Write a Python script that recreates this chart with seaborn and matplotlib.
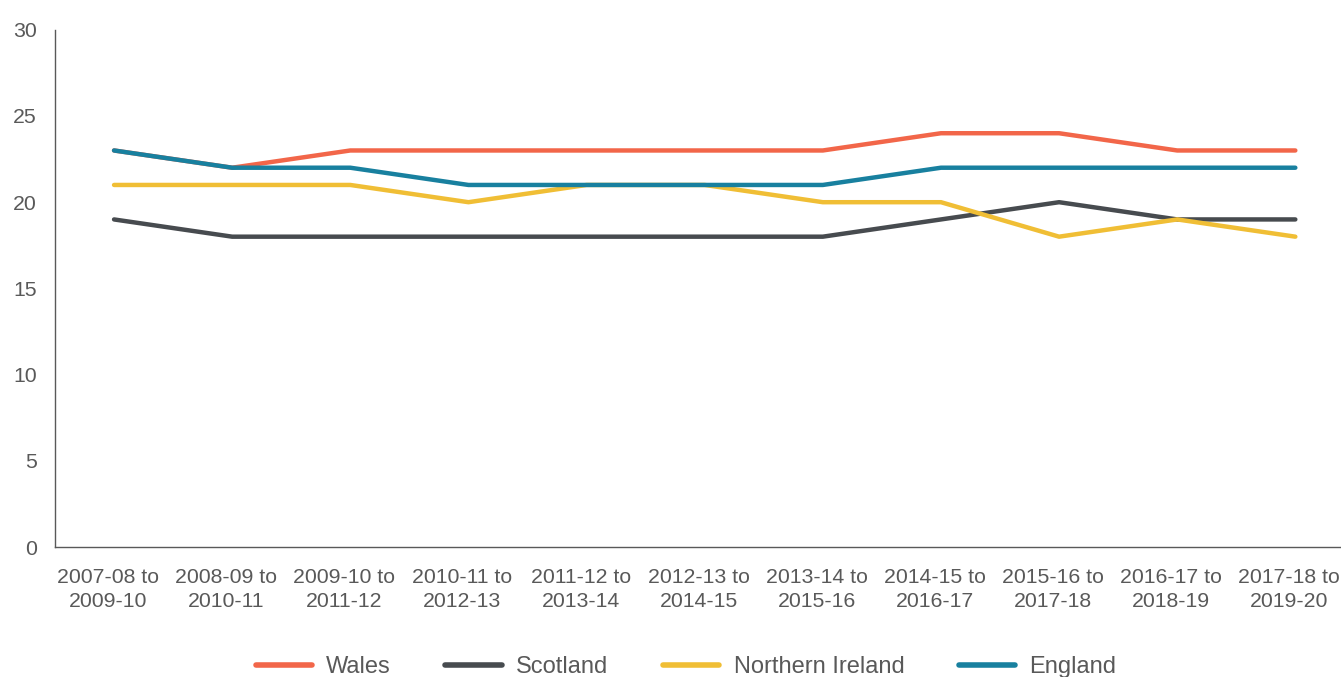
import pandas as pd
import matplotlib
matplotlib.use('Agg')
import matplotlib.pyplot as plt
import matplotlib.transforms as mtransforms
import seaborn as sns

periods = ["2007-08 to\n2009-10", "2008-09 to\n2010-11", "2009-10 to\n2011-12",
           "2010-11 to\n2012-13", "2011-12 to\n2013-14", "2012-13 to\n2014-15",
           "2013-14 to\n2015-16", "2014-15 to\n2016-17", "2015-16 to\n2017-18",
           "2016-17 to\n2018-19", "2017-18 to\n2019-20"]
wales = [23, 22, 23, 23, 23, 23, 23, 24, 24, 23, 23]
scotland = [19, 18, 18, 18, 18, 18, 18, 19, 20, 19, 19]
northern_ireland = [21, 21, 21, 20, 21, 21, 20, 20, 18, 19, 18]
england = [23, 22, 22, 21, 21, 21, 21, 22, 22, 22, 22]

nations = ["Wales", "Scotland", "Northern Ireland", "England"]
colors = ["#F26649", "#474B4F", "#F0BE35", "#18809F"]

df = pd.DataFrame({
    "period": list(range(len(periods))) * 4,
    "value": wales + scotland + northern_ireland + england,
    "nation": sum([[n] * len(periods) for n in nations], []),
})

sns.set_theme(style="white")
plt.rcParams['font.family'] = ['Liberation Sans', 'DejaVu Sans']

fig = plt.figure(figsize=(13.41, 6.77), dpi=100)
ax = fig.add_axes([0.041, 0.192, 0.969, 0.764])

sns.lineplot(data=df, x="period", y="value", hue="nation", hue_order=nations,
             palette=colors, linewidth=3.2, ax=ax, solid_capstyle='round')

ax.set_xlim(-0.5, len(periods) - 0.5)
ax.set_ylim(0, 30)
ax.set_yticks(range(0, 31, 5))
ax.set_xticks(range(len(periods)))
ax.set_xticklabels(periods, linespacing=1.35)
ax.tick_params(axis='both', length=0, labelsize=15.3, labelcolor='#595959')
ax.tick_params(axis='x', pad=15)
ax.tick_params(axis='y', pad=13)
ax.set_xlabel('')
ax.set_ylabel('')

# nudge category labels slightly left, as in the original
shift = mtransforms.ScaledTranslation(-6 / 100, 0, fig.dpi_scale_trans)
for lab in ax.get_xticklabels():
    lab.set_transform(lab.get_transform() + shift)

for side in ['top', 'right']:
    ax.spines[side].set_visible(False)
for side in ['left', 'bottom']:
    ax.spines[side].set_color('#595959')
    ax.spines[side].set_linewidth(1)

handles, labels = ax.get_legend_handles_labels()
ax.get_legend().remove()
leg = fig.legend(handles, labels, loc='center', bbox_to_anchor=(686 / 1341, 10 / 677),
                 bbox_transform=fig.transFigure, ncol=4, frameon=False,
                 fontsize=17, handlelength=2.4, handletextpad=0.6,
                 columnspacing=2.3, labelcolor='#595959')
for line in leg.get_lines():
    line.set_linewidth(4)

fig.savefig("out.png", dpi=100, facecolor='white')
